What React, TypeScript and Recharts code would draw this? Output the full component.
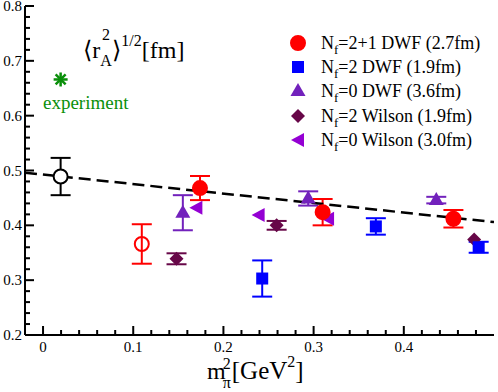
import { ScatterChart, Scatter, XAxis, YAxis, ErrorBar } from 'recharts';

// N_f=2+1 DWF (2.7fm)
const nf21DwfX = [0.174, 0.31, 0.455];
const nf21DwfY = [0.468, 0.424, 0.412];
const nf21DwfErr = [0.022, 0.024, 0.016];

// chiral extrapolation of the 2+1 points (open red)
const nf21ChiralX = [0.1095];
const nf21ChiralY = [0.366];
const nf21ChiralErr = [0.036];

// N_f=2 DWF (1.9fm)
const nf2DwfX = [0.243, 0.369, 0.483];
const nf2DwfY = [0.303, 0.398, 0.36];
const nf2DwfErr = [0.033, 0.015, 0.01];

// N_f=0 DWF (3.6fm)
const nf0DwfX = [0.155, 0.294, 0.436];
const nf0DwfY = [0.423, 0.449, 0.446];
const nf0DwfErr = [0.032, 0.013, 0.006];

// N_f=2 Wilson (1.9fm)
const nf2WilsonX = [0.148, 0.259, 0.478];
const nf2WilsonY = [0.339, 0.4, 0.374];
const nf2WilsonErr = [0.01, 0.008, 0];

// N_f=0 Wilson (3.0fm)
const nf0WilsonX = [0.17, 0.239, 0.316];
const nf0WilsonY = [0.432, 0.419, 0.412];

// experiment and physical point extrapolation
const experimentX = [0.0195];
const experimentY = [0.666];
const physicalX = [0.0195];
const physicalY = [0.489];
const physicalErr = [0.034];

// dashed fit line
const fitX = [-0.02, 0.5];
const fitY = [0.496, 0.406];

const xTicks = [0, 0.02, 0.04, 0.06, 0.08, 0.1, 0.12, 0.14, 0.16, 0.18, 0.2, 0.22, 0.24, 0.26, 0.28, 0.3, 0.32, 0.34, 0.36, 0.38, 0.4, 0.42, 0.44, 0.46, 0.48];
const yTicks = [0.2, 0.22, 0.24, 0.26, 0.28, 0.3, 0.32, 0.34, 0.36, 0.38, 0.4, 0.42, 0.44, 0.46, 0.48, 0.5, 0.52, 0.54, 0.56, 0.58, 0.6, 0.62, 0.64, 0.66, 0.68, 0.7, 0.72, 0.74, 0.76, 0.78, 0.8];

const legendNames = ['2+1 DWF (2.7fm)', '2 DWF (1.9fm)', '0 DWF (3.6fm)', '2 Wilson (1.9fm)', '0 Wilson (3.0fm)'];

const RED = '#ff0000';
const BLUE = '#0000ff';
const INDIGO = '#7221bc';
const MAROON = '#670748';
const VIOLET = '#9400d3';
const GREEN = '#0a8f0a';
const FONT = 'Liberation Serif, DejaVu Serif, serif';
const serif = { fontFamily: FONT };

const zip = (xs: number[], ys: number[], errs?: number[]) =>
    xs.map((x, i) => ({ x, y: ys[i], err: errs ? errs[i] : 0 }));

const isMajor = (v: number) => Math.abs(v * 10 - Math.round(v * 10)) < 1e-6;
const fmt = (v: number) => (Math.abs(v) < 1e-9 ? '0' : String(Math.round(v * 10) / 10));

const circleShape = (color: string, open = false) => (p: any) =>
    <circle cx={p.cx} cy={p.cy} r={7} fill={open ? 'none' : color} stroke={color} strokeWidth={2} />;
const openBlack = (p: any) => <circle cx={p.cx} cy={p.cy} r={7} fill="#fff" stroke="#000" strokeWidth={2} />;
const squareShape = (p: any) => <rect x={p.cx - 6} y={p.cy - 6} width={12} height={12} fill={BLUE} />;
const triUp = (p: any) =>
    <polygon points={`${p.cx},${p.cy - 8} ${p.cx - 7.5},${p.cy + 5} ${p.cx + 7.5},${p.cy + 5}`} fill={INDIGO} />;
const diamond = (p: any) =>
    <polygon points={`${p.cx},${p.cy - 7} ${p.cx + 7},${p.cy} ${p.cx},${p.cy + 7} ${p.cx - 7},${p.cy}`} fill={MAROON} />;
const triLeft = (p: any) =>
    <polygon points={`${p.cx - 7},${p.cy} ${p.cx + 6},${p.cy - 7} ${p.cx + 6},${p.cy + 7}`} fill={VIOLET} />;
const asterisk = (p: any) => (
    <g stroke={GREEN} strokeWidth={2.5}>
        <line x1={p.cx - 7} y1={p.cy} x2={p.cx + 7} y2={p.cy} />
        <line x1={p.cx} y1={p.cy - 7} x2={p.cx} y2={p.cy + 7} />
        <line x1={p.cx - 5} y1={p.cy - 5} x2={p.cx + 5} y2={p.cy + 5} />
        <line x1={p.cx - 5} y1={p.cy + 5} x2={p.cx + 5} y2={p.cy - 5} />
    </g>
);
const noShape = () => <g />;

const legendShapes = [circleShape(RED), squareShape, triUp, diamond, triLeft];

// ticks point inward, labels only on the major ones
const BottomTick = ({ x, y, payload }: any) => {
    const major = isMajor(payload.value);
    return (
        <g>
            <line x1={x} x2={x} y1={y} y2={y - (major ? 9 : 5)} stroke="#000" strokeWidth={2} />
            {major && <text x={x} y={y + 17} textAnchor="middle" fontSize={15} style={serif} fill="#000">{fmt(payload.value)}</text>}
        </g>
    );
};
const TopTick = ({ x, y, payload }: any) => (
    <line x1={x} x2={x} y1={y} y2={y + (isMajor(payload.value) ? 9 : 5)} stroke="#000" strokeWidth={2} />
);
const LeftTick = ({ x, y, payload }: any) => {
    const major = isMajor(payload.value);
    return (
        <g>
            <line x1={x} x2={x + (major ? 9 : 5)} y1={y} y2={y} stroke="#000" strokeWidth={2} />
            {major && <text x={x - 3} y={y + 5} textAnchor="end" fontSize={15} style={serif} fill="#000">{fmt(payload.value)}</text>}
        </g>
    );
};
const RightTick = ({ x, y, payload }: any) => (
    <line x1={x} x2={x - (isMajor(payload.value) ? 9 : 5)} y1={y} y2={y} stroke="#000" strokeWidth={2} />
);

const legendRows = [43, 67, 91, 116, 140];

export default function App() {
    const axisLine = { stroke: '#000', strokeWidth: 2 };
    return (
        <div style={{ position: 'absolute', left: 0, top: 0, width: 498, height: 392, background: '#fff' }}>
            <ScatterChart width={498} height={392} margin={{ top: 6, right: 4, left: 0, bottom: 0 }}>
                <XAxis xAxisId="b" type="number" dataKey="x" domain={[-0.02, 0.5]} ticks={xTicks} interval={0}
                    allowDataOverflow height={57} tickSize={0} tickMargin={0} axisLine={axisLine} tickLine={false} tick={<BottomTick />} />
                <XAxis xAxisId="t" orientation="top" type="number" dataKey="x" domain={[-0.02, 0.5]} ticks={xTicks} interval={0}
                    allowDataOverflow height={0} tickSize={0} tickMargin={0} axisLine={axisLine} tickLine={false} tick={<TopTick />} />
                <YAxis yAxisId="l" type="number" dataKey="y" domain={[0.2, 0.8]} ticks={yTicks} interval={0}
                    allowDataOverflow width={25} tickSize={0} tickMargin={0} axisLine={axisLine} tickLine={false} tick={<LeftTick />} />
                <YAxis yAxisId="r" orientation="right" type="number" dataKey="y" domain={[0.2, 0.8]} ticks={yTicks} interval={0}
                    allowDataOverflow width={0} tickSize={0} tickMargin={0} axisLine={axisLine} tickLine={false} tick={<RightTick />} />

                <Scatter xAxisId="b" yAxisId="l" data={zip(fitX, fitY)} shape={noShape} isAnimationActive={false}
                    line={{ stroke: '#000', strokeWidth: 2.5, strokeDasharray: '12 6' }} />

                <Scatter xAxisId="b" yAxisId="l" data={zip(experimentX, experimentY)} shape={asterisk} isAnimationActive={false} />
                <Scatter xAxisId="b" yAxisId="l" data={zip(physicalX, physicalY, physicalErr)} shape={openBlack} isAnimationActive={false}>
                    <ErrorBar dataKey="err" direction="y" width={10} strokeWidth={2} stroke="#000" />
                </Scatter>
                <Scatter xAxisId="b" yAxisId="l" data={zip(nf21ChiralX, nf21ChiralY, nf21ChiralErr)} shape={circleShape(RED, true)} isAnimationActive={false}>
                    <ErrorBar dataKey="err" direction="y" width={10} strokeWidth={2} stroke={RED} />
                </Scatter>
                <Scatter xAxisId="b" yAxisId="l" data={zip(nf2WilsonX, nf2WilsonY, nf2WilsonErr)} shape={diamond} isAnimationActive={false}>
                    <ErrorBar dataKey="err" direction="y" width={10} strokeWidth={2} stroke={MAROON} />
                </Scatter>
                <Scatter xAxisId="b" yAxisId="l" data={zip(nf0DwfX, nf0DwfY, nf0DwfErr)} shape={triUp} isAnimationActive={false}>
                    <ErrorBar dataKey="err" direction="y" width={10} strokeWidth={2} stroke={INDIGO} />
                </Scatter>
                <Scatter xAxisId="b" yAxisId="l" data={zip(nf0WilsonX, nf0WilsonY)} shape={triLeft} isAnimationActive={false} />
                <Scatter xAxisId="b" yAxisId="l" data={zip(nf2DwfX, nf2DwfY, nf2DwfErr)} shape={squareShape} isAnimationActive={false}>
                    <ErrorBar dataKey="err" direction="y" width={10} strokeWidth={2} stroke={BLUE} />
                </Scatter>
                <Scatter xAxisId="b" yAxisId="l" data={zip(nf21DwfX, nf21DwfY, nf21DwfErr)} shape={circleShape(RED)} isAnimationActive={false}>
                    <ErrorBar dataKey="err" direction="y" width={10} strokeWidth={2} stroke={RED} />
                </Scatter>
            </ScatterChart>

            <svg width={498} height={392} style={{ position: 'absolute', left: 0, top: 0, pointerEvents: 'none', fontFamily: FONT }}>
                <text x={83} y={58} fontSize={24} fill="#000">
                    ⟨r<tspan dy={8} fontSize={16}>A</tspan>
                    <tspan dx={-10} dy={-26} fontSize={16}>2</tspan>
                    <tspan dx={2} dy={18} fontSize={24}>⟩</tspan>
                    <tspan dy={-12} fontSize={16}>1/2</tspan>
                    <tspan dy={12} fontSize={24}>[fm]</tspan>
                </text>
                <text x={43} y={109} fontSize={19} fill={GREEN}>experiment</text>

                {legendNames.map((name, i) => (
                    <g key={name}>
                        {legendShapes[i]({ cx: 298, cy: legendRows[i] })}
                        <text x={321} y={legendRows[i] + 6} fontSize={18} fill="#000">
                            N<tspan dy={5} fontSize={13}>f</tspan><tspan dy={-5}>={name}</tspan>
                        </text>
                    </g>
                ))}

                <text x={207} y={379} fontSize={24} fill="#000">
                    m<tspan dx={-3} dy={9} fontSize={16}>π</tspan>
                    <tspan dx={-8} dy={-19} fontSize={16}>2</tspan>
                    <tspan dx={1} dy={10} fontSize={25}>[GeV</tspan>
                    <tspan dy={-12} fontSize={16}>2</tspan>
                    <tspan dy={12} fontSize={25}>]</tspan>
                </text>
            </svg>
        </div>
    );
}
